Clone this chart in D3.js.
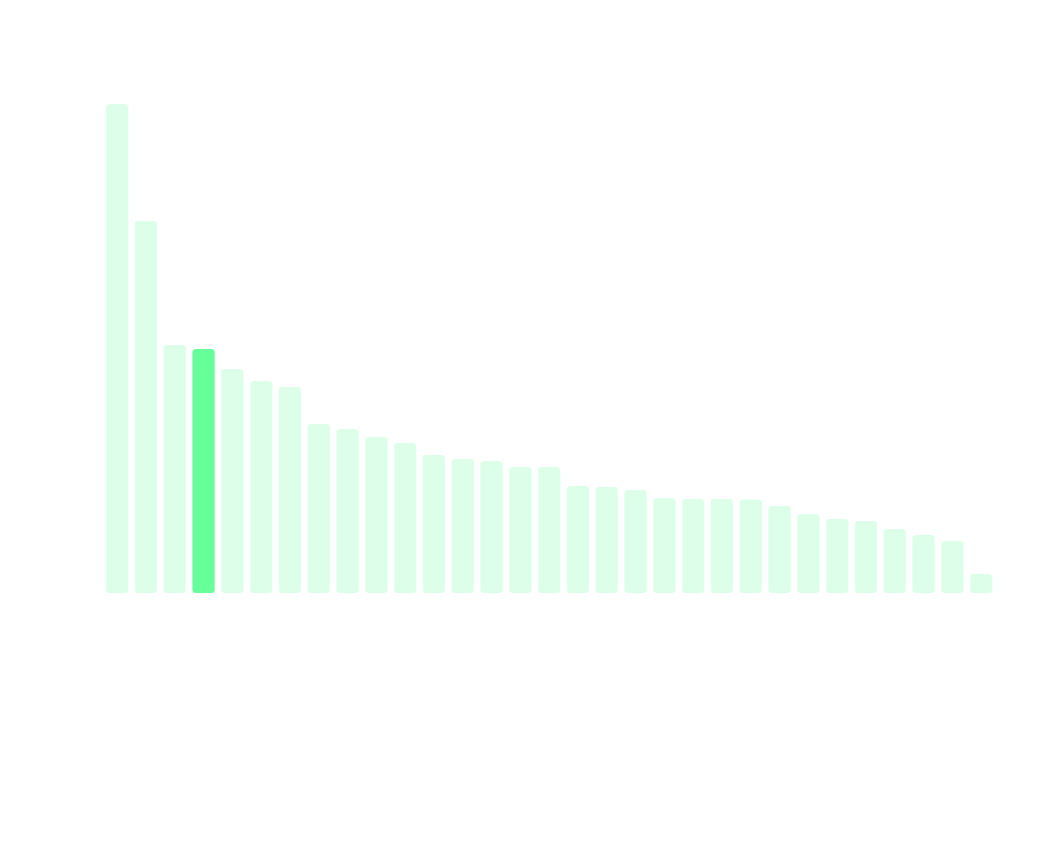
<!DOCTYPE html>
<html>
<head>
<meta charset="utf-8">
<script src="https://cdn.jsdelivr.net/npm/d3@7"></script>
<style>
  html, body { margin: 0; padding: 0; background: #ffffff; }
  svg { display: block; }
</style>
</head>
<body>
<svg id="chart" width="1051" height="852"></svg>
<script>
const categories = d3.range(1, 32).map(i => "C" + i);
const values = [489, 372, 248, 244, 224, 212, 206, 169, 164, 156, 150, 138, 134, 132, 126, 126,
                107, 106, 103, 95, 94, 94, 93.5, 87, 79, 74, 72, 64, 58, 52, 19];
const highlighted = ["C4"];

const svg = d3.select("#chart");
const x = d3.scaleBand().domain(categories).range([106, 992.3]).paddingInner(0.225).paddingOuter(0);
const y = d3.scaleLinear().domain([0, 489]).range([593, 104]);

svg.append("g").selectAll("rect")
  .data(categories.map((c, i) => ({ c, v: values[i] })))
  .join("rect")
  .attr("x", d => x(d.c))
  .attr("y", d => y(d.v))
  .attr("width", x.bandwidth())
  .attr("height", d => y(0) - y(d.v))
  .attr("rx", 3.5)
  .attr("ry", 3.5)
  .attr("fill", "#66ff99")
  .attr("fill-opacity", d => highlighted.includes(d.c) ? 1 : 0.22);
</script>
</body>
</html>
